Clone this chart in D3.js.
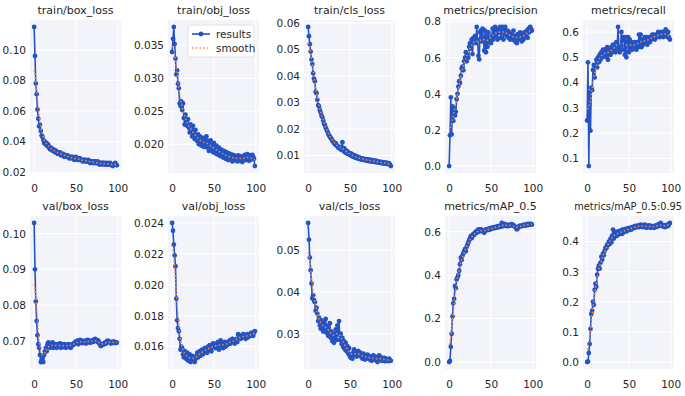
<!DOCTYPE html>
<html>
<head>
<meta charset="utf-8">
<script src="https://cdn.jsdelivr.net/npm/d3@7"></script>
<style>
  body { margin: 0; background: #fff; }
  text { font-family: "DejaVu Sans", sans-serif; fill: #262626; }
</style>
</head>
<body>
<script>
// ---- data ----
var titles = ["train/box_loss", "train/obj_loss", "train/cls_loss", "metrics/precision", "metrics/recall",
              "val/box_loss", "val/obj_loss", "val/cls_loss", "metrics/mAP_0.5", "metrics/mAP_0.5:0.95"];

var xTicks = [0, 50, 100];

var yTicks = [
  [0.02, 0.04, 0.06, 0.08, 0.10],
  [0.020, 0.025, 0.030, 0.035],
  [0.01, 0.02, 0.03, 0.04, 0.05, 0.06],
  [0.0, 0.2, 0.4, 0.6, 0.8],
  [0.1, 0.2, 0.3, 0.4, 0.5, 0.6],
  [0.07, 0.08, 0.09, 0.10],
  [0.016, 0.018, 0.020, 0.022, 0.024],
  [0.03, 0.04, 0.05],
  [0.0, 0.2, 0.4, 0.6],
  [0.0, 0.1, 0.2, 0.3, 0.4]
];
var yFormats = [".2f", ".3f", ".2f", ".1f", ".1f", ".2f", ".3f", ".2f", ".1f", ".1f"];

var trainBox = [0.115,0.096,0.078,0.071,0.061,0.055,0.050,0.051,0.047,0.044,
  0.043,0.041,0.039,0.040,0.038,0.039,0.037,0.038,0.036,0.035,
  0.036,0.035,0.034,0.035,0.034,0.033,0.034,0.033,0.032,0.033,
  0.032,0.033,0.031,0.032,0.031,0.032,0.030,0.031,0.031,0.030,
  0.031,0.030,0.029,0.030,0.030,0.029,0.030,0.029,0.028,0.029,
  0.030,0.029,0.028,0.029,0.028,0.029,0.028,0.028,0.027,0.028,
  0.028,0.027,0.028,0.027,0.027,0.028,0.027,0.026,0.027,0.027,
  0.026,0.027,0.026,0.027,0.026,0.026,0.027,0.026,0.025,0.026,
  0.026,0.025,0.026,0.026,0.025,0.026,0.025,0.025,0.026,0.025,
  0.025,0.026,0.025,0.025,0.024,0.025,0.025,0.026,0.025,0.0245];

var trainObj = [0.0340,0.0360,0.0378,0.0352,0.0330,0.0306,0.0312,0.0292,0.0285,0.0262,
  0.0258,0.0265,0.0252,0.0262,0.0240,0.0230,0.0245,0.0232,0.0228,0.0238,
  0.0225,0.0218,0.0230,0.0220,0.0212,0.0228,0.0215,0.0208,0.0222,0.0210,
  0.0205,0.0215,0.0200,0.0212,0.0205,0.0198,0.0210,0.0202,0.0196,0.0208,
  0.0200,0.0212,0.0195,0.0205,0.0190,0.0200,0.0206,0.0192,0.0198,0.0188,
  0.0202,0.0194,0.0186,0.0198,0.0190,0.0184,0.0195,0.0188,0.0182,0.0192,
  0.0186,0.0180,0.0190,0.0184,0.0178,0.0188,0.0182,0.0176,0.0186,0.0180,
  0.0185,0.0178,0.0174,0.0184,0.0180,0.0176,0.0182,0.0178,0.0174,0.0183,
  0.0179,0.0175,0.0182,0.0177,0.0173,0.0181,0.0178,0.0184,0.0176,0.0180,
  0.0185,0.0179,0.0175,0.0183,0.0180,0.0177,0.0184,0.0181,0.0178,0.0167];

var trainCls = [0.0585,0.0550,0.0520,0.0492,0.0462,0.0445,0.0410,0.0390,0.0380,0.0340,
  0.0335,0.0310,0.0290,0.0285,0.0272,0.0262,0.0250,0.0245,0.0232,0.0220,
  0.0215,0.0205,0.0198,0.0190,0.0182,0.0175,0.0172,0.0165,0.0162,0.0155,
  0.0152,0.0148,0.0142,0.0146,0.0138,0.0135,0.0130,0.0128,0.0132,0.0122,
  0.0125,0.0150,0.0118,0.0128,0.0112,0.0120,0.0108,0.0115,0.0105,0.0110,
  0.0102,0.0108,0.0098,0.0104,0.0095,0.0100,0.0092,0.0098,0.0090,0.0095,
  0.0088,0.0093,0.0086,0.0090,0.0084,0.0089,0.0083,0.0087,0.0082,0.0086,
  0.0080,0.0085,0.0079,0.0084,0.0078,0.0083,0.0077,0.0082,0.0076,0.0080,
  0.0075,0.0080,0.0074,0.0078,0.0073,0.0077,0.0072,0.0076,0.0071,0.0075,
  0.0070,0.0074,0.0069,0.0073,0.0068,0.0072,0.0067,0.0070,0.0065,0.0060];

var precision = [0.000,0.170,0.380,0.175,0.330,0.250,0.320,0.280,0.300,0.370,
  0.400,0.440,0.470,0.460,0.500,0.540,0.550,0.530,0.580,0.600,
  0.630,0.580,0.620,0.600,0.660,0.680,0.650,0.700,0.620,0.710,
  0.690,0.720,0.680,0.770,0.700,0.610,0.590,0.740,0.750,0.690,
  0.760,0.700,0.640,0.750,0.630,0.720,0.660,0.740,0.690,0.700,
  0.680,0.720,0.760,0.700,0.740,0.770,0.720,0.750,0.700,0.760,
  0.740,0.770,0.710,0.750,0.770,0.700,0.760,0.770,0.730,0.720,
  0.750,0.710,0.740,0.700,0.730,0.720,0.700,0.750,0.710,0.690,
  0.720,0.680,0.730,0.700,0.720,0.740,0.710,0.690,0.730,0.700,
  0.740,0.720,0.730,0.750,0.710,0.760,0.740,0.770,0.760,0.750];

var recall = [0.250,0.480,0.070,0.360,0.210,0.380,0.370,0.450,0.470,0.420,
  0.470,0.490,0.460,0.500,0.480,0.510,0.490,0.520,0.500,0.530,
  0.510,0.530,0.520,0.500,0.540,0.490,0.520,0.530,0.510,0.540,
  0.520,0.550,0.530,0.540,0.520,0.560,0.540,0.620,0.530,0.520,
  0.550,0.600,0.530,0.580,0.570,0.510,0.580,0.500,0.560,0.580,
  0.520,0.570,0.540,0.560,0.530,0.550,0.540,0.560,0.550,0.530,
  0.560,0.540,0.590,0.550,0.590,0.540,0.570,0.550,0.560,0.580,
  0.560,0.580,0.550,0.570,0.580,0.560,0.580,0.570,0.590,0.580,
  0.590,0.570,0.580,0.590,0.580,0.600,0.590,0.580,0.590,0.600,
  0.590,0.580,0.600,0.590,0.610,0.590,0.580,0.600,0.580,0.570];

var valBox = [0.1030,0.0900,0.0810,0.0755,0.0715,0.0690,0.0680,0.0660,0.0640,0.0645,
  0.0650,0.0640,0.0660,0.0670,0.0680,0.0670,0.0690,0.0695,0.0685,0.0680,
  0.0690,0.0685,0.0695,0.0680,0.0690,0.0685,0.0690,0.0680,0.0685,0.0690,
  0.0685,0.0692,0.0680,0.0690,0.0688,0.0682,0.0690,0.0685,0.0680,0.0688,
  0.0685,0.0690,0.0682,0.0688,0.0680,0.0686,0.0690,0.0688,0.0694,0.0692,
  0.0698,0.0695,0.0700,0.0690,0.0698,0.0702,0.0695,0.0700,0.0693,0.0698,
  0.0695,0.0700,0.0692,0.0698,0.0702,0.0696,0.0700,0.0694,0.0698,0.0700,
  0.0696,0.0702,0.0698,0.0705,0.0700,0.0702,0.0696,0.0700,0.0692,0.0688,
  0.0685,0.0690,0.0688,0.0692,0.0690,0.0695,0.0692,0.0698,0.0700,0.0696,
  0.0698,0.0695,0.0692,0.0696,0.0694,0.0698,0.0695,0.0693,0.0696,0.0694];

var valObj = [0.0240,0.0235,0.0226,0.0219,0.0212,0.0191,0.0177,0.0172,0.0170,0.0165,
  0.0158,0.0160,0.0159,0.0155,0.0153,0.0157,0.0154,0.0152,0.0156,0.0151,
  0.0153,0.0155,0.0150,0.0152,0.0154,0.0151,0.0153,0.0150,0.0152,0.0154,
  0.0156,0.0153,0.0155,0.0157,0.0154,0.0156,0.0158,0.0155,0.0157,0.0159,
  0.0157,0.0159,0.0156,0.0160,0.0158,0.0161,0.0159,0.0157,0.0160,0.0162,
  0.0160,0.0161,0.0159,0.0162,0.0160,0.0163,0.0158,0.0161,0.0164,0.0160,
  0.0162,0.0159,0.0161,0.0163,0.0160,0.0162,0.0161,0.0163,0.0162,0.0164,
  0.0162,0.0163,0.0165,0.0163,0.0164,0.0162,0.0164,0.0165,0.0163,0.0168,
  0.0167,0.0166,0.0165,0.0167,0.0166,0.0168,0.0166,0.0167,0.0165,0.0167,
  0.0168,0.0166,0.0167,0.0168,0.0167,0.0169,0.0168,0.0167,0.0169,0.0170];

var valCls = [0.0565,0.0525,0.0482,0.0452,0.0420,0.0385,0.0392,0.0380,0.0375,0.0355,
  0.0362,0.0348,0.0330,0.0338,0.0320,0.0312,0.0332,0.0318,0.0305,0.0325,
  0.0312,0.0335,0.0302,0.0318,0.0295,0.0310,0.0325,0.0290,0.0305,0.0282,
  0.0300,0.0278,0.0295,0.0310,0.0285,0.0320,0.0298,0.0330,0.0285,0.0300,
  0.0275,0.0290,0.0268,0.0282,0.0262,0.0278,0.0258,0.0270,0.0252,0.0265,
  0.0245,0.0242,0.0250,0.0240,0.0255,0.0262,0.0248,0.0258,0.0245,0.0252,
  0.0258,0.0248,0.0255,0.0245,0.0250,0.0240,0.0252,0.0245,0.0238,0.0248,
  0.0242,0.0250,0.0240,0.0246,0.0238,0.0244,0.0235,0.0242,0.0248,0.0238,
  0.0245,0.0236,0.0242,0.0232,0.0240,0.0248,0.0238,0.0244,0.0235,0.0240,
  0.0236,0.0242,0.0234,0.0240,0.0236,0.0238,0.0234,0.0240,0.0236,0.0235];

var map50 = [0.000,0.005,0.070,0.130,0.210,0.270,0.290,0.350,0.340,0.380,
  0.390,0.400,0.420,0.450,0.480,0.470,0.490,0.500,0.510,0.520,
  0.510,0.530,0.540,0.550,0.560,0.570,0.580,0.570,0.580,0.590,
  0.585,0.595,0.600,0.595,0.605,0.610,0.600,0.605,0.610,0.608,
  0.605,0.600,0.595,0.605,0.610,0.606,0.612,0.608,0.615,0.610,
  0.612,0.618,0.614,0.620,0.616,0.622,0.618,0.620,0.625,0.620,
  0.624,0.628,0.622,0.640,0.630,0.626,0.636,0.628,0.632,0.625,
  0.630,0.626,0.632,0.628,0.630,0.634,0.628,0.630,0.625,0.622,
  0.618,0.610,0.615,0.620,0.626,0.624,0.628,0.625,0.630,0.628,
  0.632,0.628,0.630,0.634,0.630,0.636,0.632,0.634,0.636,0.632];

var map5095 = [0.000,0.002,0.030,0.060,0.110,0.160,0.170,0.200,0.190,0.240,
  0.260,0.250,0.290,0.310,0.320,0.310,0.330,0.350,0.340,0.360,
  0.355,0.370,0.380,0.378,0.390,0.388,0.400,0.392,0.410,0.398,
  0.420,0.440,0.410,0.430,0.418,0.432,0.420,0.428,0.435,0.425,
  0.430,0.438,0.426,0.440,0.432,0.436,0.442,0.434,0.440,0.445,
  0.438,0.442,0.446,0.440,0.448,0.444,0.450,0.446,0.452,0.448,
  0.450,0.454,0.448,0.452,0.456,0.450,0.454,0.448,0.452,0.456,
  0.450,0.446,0.452,0.448,0.454,0.450,0.446,0.452,0.448,0.450,
  0.446,0.452,0.448,0.455,0.450,0.456,0.458,0.452,0.462,0.456,
  0.452,0.450,0.455,0.448,0.452,0.450,0.456,0.452,0.458,0.462];

var series = [trainBox, trainObj, trainCls, precision, recall, valBox, valObj, valCls, map50, map5095];

// ---- layout ----
var W = 685, H = 396;
var colLeft = [30, 168, 304, 445, 583];
var rowTop = [20, 216];
var pw = 91, ph = 153;
var blue = "#2453c4", orange = "#f08a4b";

// gaussian smoothing like scipy gaussian_filter1d(sigma=3), reflect mode
function smooth(y, sigma) {
  var r = Math.round(4 * sigma), w = [], s = 0;
  for (var k = -r; k <= r; k++) { var v = Math.exp(-0.5 * k * k / (sigma * sigma)); w.push(v); s += v; }
  w = w.map(function(v) { return v / s; });
  var n = y.length;
  return y.map(function(_, i) {
    var acc = 0;
    for (var k = -r; k <= r; k++) {
      var j = i + k;
      if (j < 0) j = -j - 1;
      if (j >= n) j = 2 * n - j - 1;
      acc += w[k + r] * y[j];
    }
    return acc;
  });
}

var svg = d3.select("body").append("svg")
  .attr("width", W).attr("height", H);

series.forEach(function(ys, i) {
  var col = i % 5, row = Math.floor(i / 5);
  var g = svg.append("g")
    .attr("transform", "translate(" + colLeft[col] + "," + rowTop[row] + ")");

  var ext = d3.extent(ys), pad = (ext[1] - ext[0]) * 0.05;
  var x = d3.scaleLinear().domain([-4.95, 103.95]).range([0, pw]);
  var y = d3.scaleLinear().domain([ext[0] - pad, ext[1] + pad]).range([ph, 0]);

  g.append("rect").attr("width", pw).attr("height", ph).attr("fill", "#f3f4f9");

  // grid
  g.selectAll(".gx").data(xTicks).enter().append("line")
    .attr("x1", function(d) { return x(d); }).attr("x2", function(d) { return x(d); })
    .attr("y1", 0).attr("y2", ph).attr("stroke", "#fff").attr("stroke-width", 1);
  g.selectAll(".gy").data(yTicks[i].filter(function(t) { return y(t) >= -0.5 && y(t) <= ph + 0.5; }))
    .enter().append("line")
    .attr("y1", function(d) { return y(d); }).attr("y2", function(d) { return y(d); })
    .attr("x1", 0).attr("x2", pw).attr("stroke", "#fff").attr("stroke-width", 1);

  // axes (labels only)
  var ax = g.append("g").attr("transform", "translate(0," + ph + ")")
    .call(d3.axisBottom(x).tickValues(xTicks).tickSize(0).tickPadding(12).tickFormat(d3.format("d")));
  var ay = g.append("g")
    .call(d3.axisLeft(y).tickValues(yTicks[i]).tickSize(0).tickPadding(4).tickFormat(d3.format(yFormats[i])));
  [ax, ay].forEach(function(a) {
    a.select(".domain").remove();
    a.selectAll("text").style("font-size", "10.5px").attr("fill", "#262626");
  });

  var pts = ys.map(function(v, k) { return [k, v]; });
  var line = d3.line().x(function(d) { return x(d[0]); }).y(function(d) { return y(d[1]); });

  g.append("path").datum(pts).attr("d", line)
    .attr("fill", "none").attr("stroke", blue).attr("stroke-width", 1.6);
  g.selectAll(".pt").data(pts).enter().append("circle")
    .attr("cx", function(d) { return x(d[0]); }).attr("cy", function(d) { return y(d[1]); })
    .attr("r", 2.4).attr("fill", blue);

  var sm = smooth(ys, 3).map(function(v, k) { return [k, v]; });
  g.append("path").datum(sm).attr("d", line)
    .attr("fill", "none").attr("stroke", orange).attr("stroke-width", 1.5)
    .attr("stroke-dasharray", "1.5,2.2");

  // the long last title is right-aligned near the edge so it stays inside the window
  var long = titles[i].length > 18;
  g.append("text").attr("x", long ? 99 : pw / 2).attr("y", -6)
    .attr("text-anchor", long ? "end" : "middle")
    .style("font-size", long ? "9.8px" : "11px").text(titles[i]);

  if (i === 1) {
    var lg = g.append("g").attr("transform", "translate(20,5)");
    lg.append("rect").attr("width", 66).attr("height", 32).attr("rx", 2)
      .attr("fill", "#fff").attr("stroke", "#ddd").attr("stroke-width", 0.8);
    lg.append("line").attr("x1", 4).attr("x2", 22).attr("y1", 9).attr("y2", 9)
      .attr("stroke", blue).attr("stroke-width", 1.6);
    lg.append("circle").attr("cx", 13).attr("cy", 9).attr("r", 2.4).attr("fill", blue);
    lg.append("line").attr("x1", 4).attr("x2", 22).attr("y1", 23).attr("y2", 23)
      .attr("stroke", orange).attr("stroke-width", 1.5).attr("stroke-dasharray", "1.5,2.2");
    lg.append("text").attr("x", 28).attr("y", 12.5).style("font-size", "10.5px").text("results");
    lg.append("text").attr("x", 28).attr("y", 26.5).style("font-size", "10.5px").text("smooth");
  }
});
</script>
</body>
</html>
